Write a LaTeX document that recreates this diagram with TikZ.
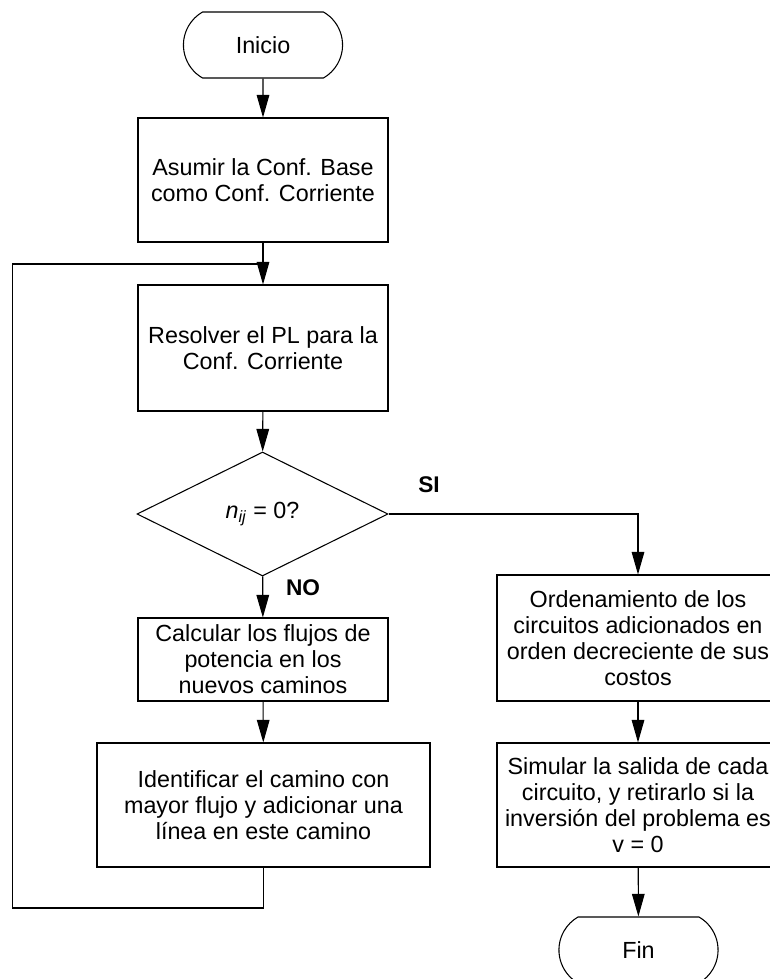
\documentclass[tikz,border=0pt]{standalone}
\usepackage{fontspec}
\setmainfont{Liberation Sans}
\usetikzlibrary{shapes.geometric, shapes.misc, arrows.meta}

\begin{document}
\begin{tikzpicture}[x=0.75pt, y=-0.75pt,
    caja/.style={draw, rectangle, line width=0.8pt, align=center, inner sep=1pt,
      font=\fontsize{17.5}{19.5}\selectfont},
    terminal/.style={draw, rounded rectangle, rounded rectangle arc length=120,
      minimum width=126pt, minimum height=49.5pt, line width=0.8pt,
      font=\fontsize{17.5}{19.5}\selectfont},
    decision/.style={draw, diamond, inner sep=0pt, minimum width=188.25pt,
      minimum height=93pt, line width=0.8pt, font=\fontsize{17.5}{19.5}\selectfont},
    etiqueta/.style={font=\fontsize{17}{19}\selectfont\bfseries},
    flecha/.style={-{Triangle[length=17pt, width=9.5pt]}, line width=0.8pt}]

    % Page
    \useasboundingbox (0,0) rectangle (770,979);
    \clip (0,0) rectangle (770,979);

    % Left column
    \node[terminal] (inicio) at (263,45) {Inicio};
    \node[caja, minimum width=187.5pt, minimum height=93pt] (asumir) at (263,180)
      {Asumir la Conf. Base\\como Conf. Corriente};
    \node[caja, minimum width=187.5pt, minimum height=94.5pt] (resolver) at (263,348)
      {Resolver el PL para la\\Conf. Corriente};
    \node[decision] (pregunta) at (262.5,514)
      {\textit{n}\textsubscript{\textit{ij}} = 0?};
    \node[caja, minimum width=187.5pt, minimum height=62.25pt] (calcular) at (263,659.5)
      {Calcular los flujos de\\potencia en los\\nuevos caminos};
    \node[caja, minimum width=249.75pt, minimum height=93pt] (identificar) at (263.5,805)
      {Identificar el camino con\\mayor flujo y adicionar una\\línea en este camino};

    % Right column
    \node[caja, minimum width=211.5pt, minimum height=94.5pt] (ordenar) at (638,638)
      {Ordenamiento de los\\circuitos adicionados en\\orden decreciente de sus\\costos};
    \node[caja, minimum width=211.5pt, minimum height=93pt] (simular) at (638,805)
      {Simular la salida de cada\\circuito, y retirarlo si la\\inversión del problema es\\v = 0};
    \node[terminal] (fin) at (638.5,950) {Fin};

    % Labels
    \node[etiqueta] (si) at (429,485) {SI};
    \node[etiqueta] (no) at (303,588) {NO};

    % Connectors
    \draw[flecha] (inicio) -- (asumir);
    \draw[flecha] (asumir) -- (resolver);
    \draw[flecha] (resolver) -- (pregunta);
    \draw[flecha] (pregunta) -- (calcular);
    \draw[flecha] (calcular) -- (identificar);
    \draw[flecha] (pregunta.east) -| (ordenar.north);
    \draw[flecha] (ordenar) -- (simular);
    \draw[flecha] (simular) -- (fin);

    % Loop back
    \coordinate (esquina) at (12.5,908);
    \coordinate (union) at (263,264);
    \draw[line width=0.8pt] (identificar.south) |- (esquina) |- (union);
  \end{tikzpicture}
\end{document}
